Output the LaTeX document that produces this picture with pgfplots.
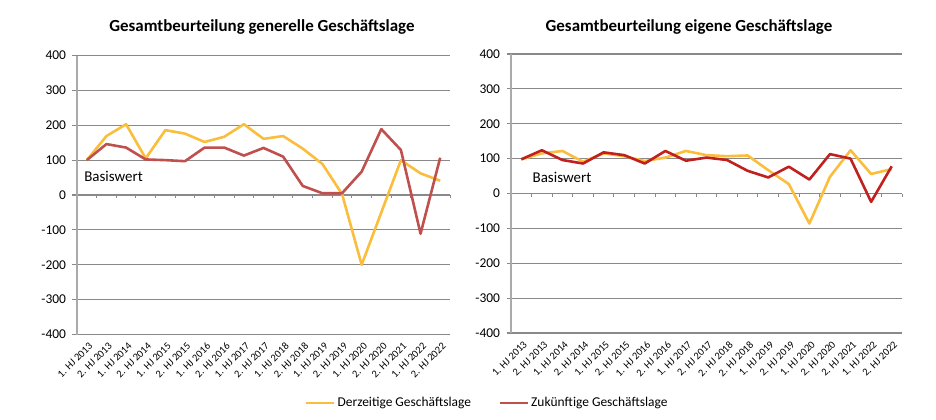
\documentclass[border=0pt]{standalone}
\usepackage{fontspec}
\setmainfont{Carlito}
\usepackage{pgfplots}
\pgfplotsset{compat=1.18}
\definecolor{cyel}{RGB}{250,190,60}
\definecolor{cred}{RGB}{192,80,77}
\definecolor{cdred}{RGB}{192,32,30}
\definecolor{cgrid}{RGB}{137,137,137}
\definecolor{caxis}{RGB}{170,170,170}
\pgfplotsset{
  mystyle/.style={
    scale only axis,
    height=279bp,
    xmin=-0.5, xmax=18.5, ymin=-400, ymax=400,
    ytick={-400,-300,-200,-100,0,100,200,300,400},
    yticklabels={-400,-300,-200,-100,0,100,200,300,400},
    xtick={0,...,18},
    axis y line*=left, axis x line*=bottom,
    x axis line style={draw=none},
    y axis line style={draw=caxis, line width=1.2bp},
    ymajorgrids, grid style={draw=cgrid, line width=1.1bp},
    major x tick style={draw=none},
    ytick style={draw=cgrid, line width=1.1bp},
    tick align=outside, major tick length=4.5bp,
    yticklabel style={font=\fontsize{13.5}{16}\selectfont, xshift=-3bp},
    xticklabel style={font=\fontsize{10.5}{12}\selectfont, rotate=45, anchor=north east, inner sep=1bp, yshift=-2bp},
    clip=false,
    every axis plot/.append style={line width=2.6bp, line join=round},
  }
}
\begin{document}
\begin{tikzpicture}
\useasboundingbox (0,0) rectangle (936bp,-420bp);
\node[font=\fontsize{17}{20}\selectfont\bfseries] at (262bp,-27bp) {Gesamtbeurteilung generelle Geschäftslage};
\node[font=\fontsize{17}{20}\selectfont\bfseries] at (689bp,-27bp) {Gesamtbeurteilung eigene Geschäftslage};
\begin{axis}[mystyle, width=373bp, at={(77bp,-334.5bp)}, anchor=south west,
  xticklabels={1. HJ 2013,2. HJ 2013,1. HJ 2014,2. HJ 2014,1. HJ 2015,2. HJ 2015,1. HJ 2016,2. HJ 2016,1. HJ 2017,2. HJ 2017,1. HJ 2018,2. HJ 2018,1. HJ 2019,2. HJ 2019,1. HJ 2020,2. HJ 2020,2. HJ 2021,1. HJ 2022,2. HJ 2022},
  legend columns=2,
  legend style={at={(1.1005,-0.2455)}, anchor=center, draw=none, fill=none,
    font=\fontsize{13.5}{16}\selectfont,
    /tikz/every even column/.append style={column sep=26bp}},
  legend image code/.code={\draw[#1, line width=2.2bp] (0bp,0bp) -- (28bp,0bp);},
]
\pgfplotsforeachungrouped \i in {0.5,1.5,...,18.5}{\edef\temp{\noexpand\draw[cgrid, line width=1bp] (axis cs:\i,0) -- (axis cs:\i,-9);}\temp}
\addplot[cyel] coordinates {(0,100) (1,169) (2,203) (3,105) (4,186) (5,176) (6,152) (7,167) (8,203) (9,161) (10,169) (11,133) (12,89) (13,3) (14,-200) (15,-50) (16,100) (17,62) (18,41)};
\addlegendentry{Derzeitige Geschäftslage}
\addplot[cred] coordinates {(0,100) (1,146) (2,136) (3,102) (4,100) (5,97) (6,136) (7,136) (8,113) (9,135) (10,110) (11,26) (12,5) (13,5) (14,67) (15,189) (16,129) (17,-111) (18,107)};
\addlegendentry{Zukünftige Geschäftslage}
\node[anchor=west, inner sep=0pt, font=\fontsize{15}{18}\selectfont] at (rel axis cs:0.019,0.565) {Basiswert};
\end{axis}
\begin{axis}[mystyle, width=391bp, at={(511bp,-333bp)}, anchor=south west,
  xticklabels={1. HJ 2013,2. HJ 2013,1. HJ 2014,2. HJ 2014,1. HJ 2015,2. HJ 2015,1. HJ 2016,2. HJ 2016,1. HJ 2017,2. HJ 2017,2. HJ 2018,2. HJ 2018,1. HJ 2019,2. HJ 2019,1. HJ 2020,2. HJ 2020,2. HJ 2021,1. HJ 2022,2. HJ 2022},
]
\pgfplotsforeachungrouped \i in {0.5,1.5,...,18.5}{\edef\temp{\noexpand\draw[cgrid, line width=1bp] (axis cs:\i,0) -- (axis cs:\i,-9);}\temp}
\addplot[cyel] coordinates {(0,98) (1,115) (2,122) (3,91) (4,115) (5,107) (6,93) (7,103) (8,122) (9,110) (10,107) (11,109) (12,67) (13,27) (14,-86) (15,48) (16,124) (17,56) (18,70)};
\addplot[cdred] coordinates {(0,98) (1,124) (2,96) (3,86) (4,118) (5,110) (6,86) (7,122) (8,94) (9,103) (10,96) (11,65) (12,46) (13,77) (14,40) (15,113) (16,100) (17,-24) (18,78)};
\node[anchor=west, inner sep=0pt, font=\fontsize{15}{18}\selectfont] at (rel axis cs:0.055,0.5575) {Basiswert};
\end{axis}
\end{tikzpicture}
\end{document}
